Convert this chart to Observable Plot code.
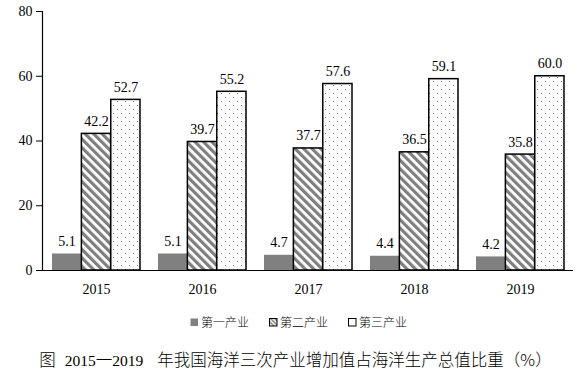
<!DOCTYPE html>
<html><head><meta charset="utf-8">
<script src="https://cdn.jsdelivr.net/npm/d3@7"></script>
<script src="https://cdn.jsdelivr.net/npm/@observablehq/plot@0.6"></script>
<style>
body{margin:0;background:#fff;}
#chart{width:583px;}
#chart svg text{font-family:"Liberation Serif",serif;}
.legend{display:flex;justify-content:center;font-family:"Noto Sans CJK SC",sans-serif;font-weight:300;font-size:12px;color:#000;margin-top:12px;margin-left:14px;line-height:16px;}
.legend span{display:flex;align-items:center;margin:0 10px;}
.legend svg{margin-right:2px;}
.caption{text-align:center;font-family:"Noto Sans CJK SC",serif;font-weight:300;font-size:16.5px;margin-top:17px;margin-left:8px;color:#000;white-space:nowrap;}
.caption .num{font-family:"Liberation Serif",serif;font-size:15.5px;font-weight:400;}
.caption .gap{display:inline-block;width:9px;}
.caption .gap2{display:inline-block;width:14px;}
</style>
</head><body>
<div id="chart"></div>
<script>
const years = ["2015","2016","2017","2018","2019"];
const seriesNames = ["第一产业","第二产业","第三产业"];
const primary = [5.1, 5.1, 4.7, 4.4, 4.2];
const secondary = [42.2, 39.7, 37.7, 36.5, 35.8];
const tertiary = [52.7, 55.2, 57.6, 59.1, 60.0];
const yTicks = [0, 20, 40, 60, 80];

const seriesValues = [primary, secondary, tertiary];
const fills = ["#808080", "url(#hatch)", "url(#dots)"];
const strokes = ["none", "#000", "#000"];

const W = 583, mL = 42, mR = 10;
const pIn = 0.17, pOut = 0.085;
const step = (W - mL - mR) / (years.length - pIn + 2 * pOut);
const bw = step * (1 - pIn);
const sub = bw / seriesNames.length;

const barMarks = [];
const textMarks = [];
seriesNames.forEach((s, j) => {
  const rows = years.map((y, i) => ({year: y, series: s, value: seriesValues[j][i]}));
  barMarks.push(Plot.barY(rows, {
    x: "year", y: "value", fill: fills[j], stroke: strokes[j], strokeWidth: 1.5,
    insetLeft: sub * j, insetRight: sub * (seriesNames.length - 1 - j)
  }));
  textMarks.push(Plot.text(rows, {
    x: "year", y: "value", text: d => d.value.toFixed(1), lineAnchor: "bottom",
    dy: -8, dx: sub * (j - 1), fontSize: 14, fontFamily: "Liberation Serif"
  }));
});

const chart = Plot.plot({
  width: W,
  height: 302,
  marginLeft: mL,
  marginRight: mR,
  marginTop: 11,
  marginBottom: 32,
  style: {fontFamily: "'Liberation Serif', serif", fontSize: "14px", color: "#000", background: "#fff"},
  x: {domain: years, paddingInner: pIn, paddingOuter: pOut, label: null},
  y: {domain: [0, 80], ticks: yTicks, label: null},
  marks: [
    ...barMarks,
    ...textMarks,
    Plot.axisY({ticks: yTicks, tickSize: 6, tickPadding: 4, fontSize: 14, fontFamily: "Liberation Serif", label: null}),
    Plot.axisX({tickSize: 0, tickPadding: 14, fontSize: 14, fontFamily: "Liberation Serif", label: null}),
    Plot.frame({anchor: "left", stroke: "#000", strokeWidth: 1.2}),
    Plot.ruleY([0], {stroke: "#000", strokeWidth: 1.2})
  ]
});

const ns = "http://www.w3.org/2000/svg";
const defs = document.createElementNS(ns, "defs");
defs.innerHTML = `
<pattern id="hatch" patternUnits="userSpaceOnUse" width="6" height="6" patternTransform="rotate(-45)">
  <rect width="6" height="6" fill="#fff"/>
  <rect width="3.2" height="6" fill="#7f7f7f"/>
</pattern>
<pattern id="dots" patternUnits="userSpaceOnUse" width="8" height="8">
  <rect width="8" height="8" fill="#fff"/>
  <rect x="1" y="1" width="1" height="1" fill="#808080"/>
  <rect x="5" y="5" width="1" height="1" fill="#808080"/>
</pattern>
<pattern id="hatchL" patternUnits="userSpaceOnUse" width="3" height="3" patternTransform="rotate(-45)">
  <rect width="3" height="3" fill="#fff"/><rect width="1.5" height="3" fill="#7f7f7f"/>
</pattern>`;
chart.insertBefore(defs, chart.firstChild);
document.getElementById("chart").appendChild(chart);

// legend
const legendFills = ["#808080", "url(#hatchL)", "#fff"];
const leg = document.createElement("div");
leg.className = "legend";
seriesNames.forEach((s, j) => {
  const item = document.createElement("span");
  const sw = document.createElementNS(ns, "svg");
  sw.setAttribute("width", 9); sw.setAttribute("height", 9);
  const stroke = j === 0 ? "" : ` stroke="#000" stroke-width="1"`;
  sw.innerHTML = `<rect x="0.5" y="0.5" width="7.5" height="7.5" fill="${legendFills[j]}"${stroke}/>`;
  item.appendChild(sw);
  item.appendChild(document.createTextNode(s));
  leg.appendChild(item);
});
document.getElementById("chart").appendChild(leg);

const cap = document.createElement("div");
cap.className = "caption";
cap.innerHTML = `图<span class="gap"></span><span class="num">2015</span>一<span class="num">2019</span><span class="gap2"></span>年我国海洋三次产业增加值占海洋生产总值比重（%）`;
document.getElementById("chart").appendChild(cap);
</script>
</body></html>
